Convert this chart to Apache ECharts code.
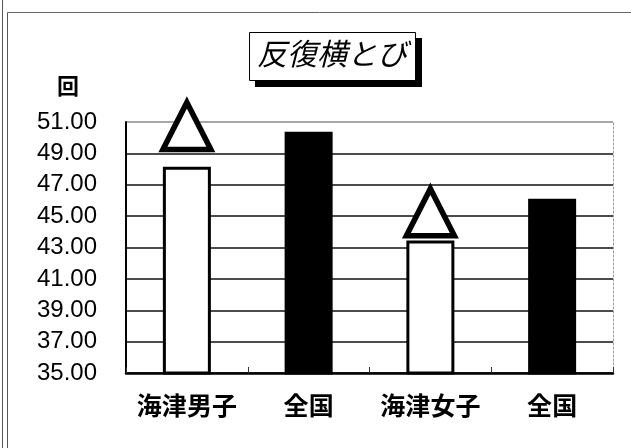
<!DOCTYPE html>
<html>
<head>
<meta charset="utf-8">
<script src="https://cdn.jsdelivr.net/npm/echarts@6/dist/echarts.min.js"></script>
<style>
  html, body { margin: 0; padding: 0; background: #fff; }
  #chart { width: 631px; height: 448px; }
</style>
</head>
<body>
<div id="chart"></div>
<script>
// 反復横とび: school averages vs. national averages
const categories = ['海津男子', '全国', '海津女子', '全国'];
const counts = [48.15, 50.38, 43.45, 46.1];
// △ marks shown above the school bars (below national average)
const belowMarks = [50.75, null, 45.25, null];
const yTicks = { min: 35, max: 51, step: 2 };

const chart = echarts.init(document.getElementById('chart'), null, { renderer: 'canvas' });

const gridColors = [];
for (let v = yTicks.min; v <= yTicks.max; v += yTicks.step) {
  gridColors.push(v === yTicks.max ? '#8a8a8a' : '#111');
}

chart.setOption({
  animation: false,
  backgroundColor: '#fff',
  title: {
    text: '反復横とび',
    left: 249,
    top: 32,
    padding: [7, 8, 6, 8],
    textStyle: {
      fontFamily: 'Noto Sans CJK JP',
      fontStyle: 'italic',
      fontWeight: 'normal',
      fontSize: 30,
      color: '#000'
    }
  },
  graphic: [
    // page frame
    { type: 'line', shape: { x1: 2.5, y1: 0, x2: 2.5, y2: 448 }, style: { stroke: '#555', lineWidth: 1 } },
    { type: 'line', shape: { x1: 7.5, y1: 12.5, x2: 7.5, y2: 448 }, style: { stroke: '#555', lineWidth: 1 } },
    { type: 'line', shape: { x1: 7.5, y1: 12.5, x2: 631, y2: 12.5 }, style: { stroke: '#666', lineWidth: 1 } },
    // title box with drop shadow
    { type: 'rect', z: 1, shape: { x: 255, y: 38, width: 167, height: 49 }, style: { fill: '#000' } },
    { type: 'rect', z: 2, shape: { x: 249.5, y: 32.5, width: 166, height: 48 }, style: { fill: '#fff', stroke: '#000', lineWidth: 1 } },
    {
      type: 'text', left: 57, top: 75,
      style: { text: '回', font: 'bold 22px "Noto Sans CJK JP"', fill: '#000' }
    }
  ],
  grid: { left: 126, right: 18, top: 122, bottom: 75, containLabel: false },
  xAxis: {
    type: 'category',
    data: categories,
    boundaryGap: true,
    axisLine: { show: true, lineStyle: { color: '#000', width: 2.5 } },
    axisTick: { show: true, interval: 0, inside: true, length: 6, lineStyle: { color: '#333', width: 1 } },
    axisLabel: {
      interval: 0,
      margin: 20,
      color: '#000',
      fontFamily: 'Noto Sans CJK JP',
      fontWeight: 'bold',
      fontSize: 25
    },
    splitLine: { show: false }
  },
  yAxis: [
    {
      type: 'value',
      min: yTicks.min,
      max: yTicks.max,
      interval: yTicks.step,
      axisLine: { show: true, lineStyle: { color: '#000', width: 2 } },
      axisTick: { show: false },
      axisLabel: {
        margin: 29,
        color: '#000',
        fontFamily: 'Liberation Sans',
        fontSize: 24,
        formatter: v => v.toFixed(2)
      },
      splitLine: { show: true, lineStyle: { color: gridColors, width: 1.5 } }
    },
    {
      type: 'value',
      position: 'right',
      min: yTicks.min,
      max: yTicks.max,
      interval: yTicks.step,
      axisLine: { show: true, lineStyle: { color: '#999', width: 1, type: [2, 2] } },
      axisTick: { show: false },
      axisLabel: { show: false },
      splitLine: { show: false }
    }
  ],
  series: [
    {
      type: 'bar',
      data: counts,
      barWidth: 48,
      itemStyle: {
        color: p => (p.dataIndex % 2 === 0 ? '#fff' : '#000'),
        borderColor: '#000',
        borderWidth: 3
      },
      z: 2
    },
    {
      type: 'scatter',
      data: belowMarks,
      symbol: 'triangle',
      symbolSize: [48, 47],
      clip: false,
      itemStyle: {
        color: '#fff',
        borderColor: '#000',
        borderWidth: 5.5,
        borderJoin: 'miter',
        opacity: 1
      },
      z: 5
    }
  ]
});
</script>
</body>
</html>
